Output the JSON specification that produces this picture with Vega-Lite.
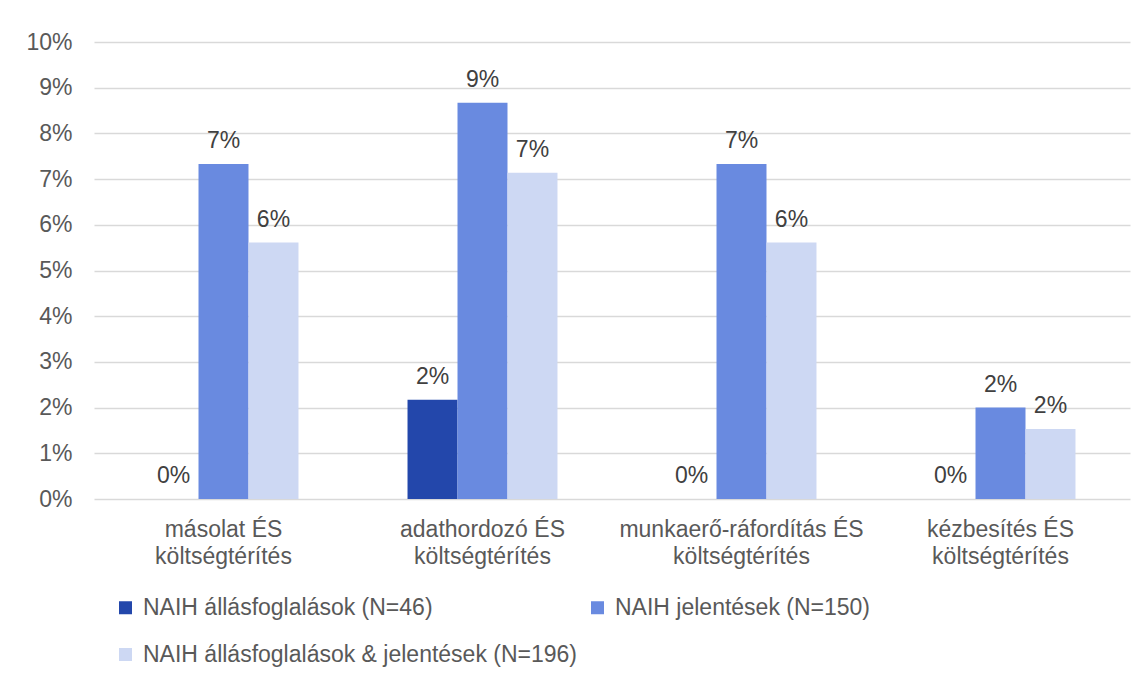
{
  "$schema": "https://vega.github.io/schema/vega-lite/v6.json",
  "width": 1036,
  "height": 457,
  "autosize": {"type": "none"},
  "padding": {"left": 94, "top": 42, "right": 16, "bottom": 178},
  "background": "white",
  "config": {
    "view": {"stroke": null},
    "font": "Liberation Sans",
    "text": {"font": "Liberation Sans"}
  },
  "data": {
    "values": [
      {"kategoria": "másolat ÉS költségtérítés", "sorozat": "NAIH állásfoglalások (N=46)", "arany": 0},
      {"kategoria": "másolat ÉS költségtérítés", "sorozat": "NAIH jelentések (N=150)", "arany": 0.0733},
      {"kategoria": "másolat ÉS költségtérítés", "sorozat": "NAIH állásfoglalások & jelentések (N=196)", "arany": 0.0561},
      {"kategoria": "adathordozó ÉS költségtérítés", "sorozat": "NAIH állásfoglalások (N=46)", "arany": 0.0217},
      {"kategoria": "adathordozó ÉS költségtérítés", "sorozat": "NAIH jelentések (N=150)", "arany": 0.0867},
      {"kategoria": "adathordozó ÉS költségtérítés", "sorozat": "NAIH állásfoglalások & jelentések (N=196)", "arany": 0.0714},
      {"kategoria": "munkaerő-ráfordítás ÉS költségtérítés", "sorozat": "NAIH állásfoglalások (N=46)", "arany": 0},
      {"kategoria": "munkaerő-ráfordítás ÉS költségtérítés", "sorozat": "NAIH jelentések (N=150)", "arany": 0.0733},
      {"kategoria": "munkaerő-ráfordítás ÉS költségtérítés", "sorozat": "NAIH állásfoglalások & jelentések (N=196)", "arany": 0.0561},
      {"kategoria": "kézbesítés ÉS költségtérítés", "sorozat": "NAIH állásfoglalások (N=46)", "arany": 0},
      {"kategoria": "kézbesítés ÉS költségtérítés", "sorozat": "NAIH jelentések (N=150)", "arany": 0.02},
      {"kategoria": "kézbesítés ÉS költségtérítés", "sorozat": "NAIH állásfoglalások & jelentések (N=196)", "arany": 0.0153}
    ]
  },
  "encoding": {
    "x": {
      "field": "kategoria",
      "type": "nominal",
      "sort": null,
      "scale": {"paddingInner": 0.421, "paddingOuter": 0.2105},
      "axis": {
        "title": null,
        "labelAngle": 0,
        "labelFont": "Liberation Sans",
        "labelFontSize": 23,
        "labelColor": "#595959",
        "labelLineHeight": 27,
        "labelPadding": 19,
        "labelLimit": 0,
        "ticks": false,
        "domain": false,
        "labelExpr": "[slice(datum.value, 0, lastindexof(datum.value, ' ')), slice(datum.value, lastindexof(datum.value, ' ') + 1)]"
      }
    },
    "xOffset": {
      "field": "sorozat",
      "type": "nominal",
      "sort": ["NAIH állásfoglalások (N=46)", "NAIH jelentések (N=150)", "NAIH állásfoglalások & jelentések (N=196)"],
      "scale": {"paddingInner": 0, "paddingOuter": 0}
    },
    "y": {
      "field": "arany",
      "type": "quantitative",
      "scale": {"domain": [0, 0.1], "nice": false},
      "axis": {
        "title": null,
        "values": [0, 0.01, 0.02, 0.03, 0.04, 0.05, 0.06, 0.07, 0.08, 0.09, 0.1],
        "format": ".0%",
        "labelFont": "Liberation Sans",
        "labelFontSize": 23,
        "labelColor": "#595959",
        "labelPadding": 22,
        "ticks": false,
        "domain": false,
        "grid": true,
        "gridColor": "#D9D9D9",
        "gridWidth": 1.3
      }
    }
  },
  "layer": [
    {
      "mark": {"type": "bar"},
      "encoding": {
        "color": {
          "field": "sorozat",
          "type": "nominal",
          "scale": {
            "domain": ["NAIH állásfoglalások (N=46)", "NAIH állásfoglalások & jelentések (N=196)", "NAIH jelentések (N=150)"],
            "range": ["#2347AB", "#CDD8F3", "#698AE0"]
          },
          "legend": {
            "title": null,
            "orient": "none",
            "legendX": 20,
            "legendY": 554,
            "columns": 2,
            "columnPadding": 8,
            "rowPadding": 23,
            "symbolType": "square",
            "symbolSize": 169,
            "symbolStrokeWidth": 0,
            "labelFont": "Liberation Sans",
            "labelFontSize": 23,
            "labelColor": "#595959",
            "labelOffset": 6,
            "labelLimit": 0
          }
        }
      }
    },
    {
      "mark": {"type": "text", "baseline": "alphabetic", "dy": -16, "fontSize": 23, "color": "#404040"},
      "encoding": {
        "text": {"field": "arany", "type": "quantitative", "format": ".0%"}
      }
    }
  ]
}
